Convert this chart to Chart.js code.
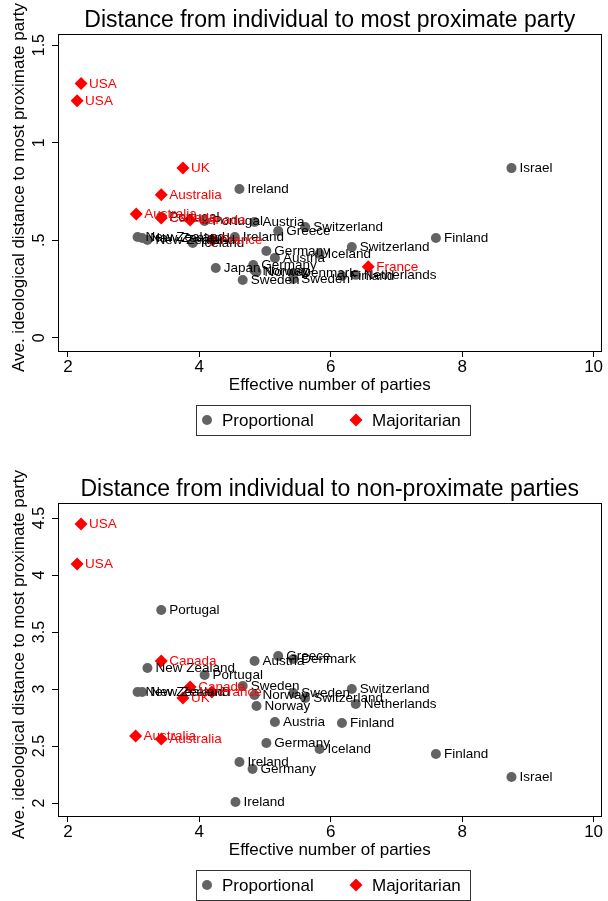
<!DOCTYPE html>
<html>
<head>
<meta charset="utf-8">
<script src="https://cdn.jsdelivr.net/npm/chart.js@4.4.0/dist/chart.umd.min.js"></script>
<style>
  html, body { margin: 0; padding: 0; background: #fff; }
  .panel { position: absolute; left: 0; width: 608px; }
  #wrap1 { top: 0; height: 468px; }
  #wrap2 { top: 468px; height: 433px; }
</style>
</head>
<body>
<div class="panel" id="wrap1"><canvas id="chart1"></canvas></div>
<div class="panel" id="wrap2"><canvas id="chart2"></canvas></div>
<script>
// ---- data: top panel (most proximate party) ----
const propNames1 = ["Israel", "Ireland", "Finland", "Switzerland", "Switzerland", "Greece", "Austria",
  "Portugal", "Portugal", "New Zealand", "New Zealand", "New Zealand", "Iceland", "Ireland",
  "Germany", "Iceland", "Austria", "Japan", "Germany", "Norway", "Norway", "Sweden", "Sweden",
  "Denmark", "Finland", "Netherlands"];
const propX1 = [8.75, 4.61, 7.60, 5.61, 6.32, 5.20, 4.84, 3.42, 4.08, 3.06, 3.13, 3.21, 3.90, 4.54,
  5.02, 5.83, 5.15, 4.25, 4.82, 4.84, 4.87, 4.66, 5.43, 5.43, 6.17, 6.38];
const propY1 = [0.870, 0.763, 0.512, 0.568, 0.466, 0.548, 0.594, 0.620, 0.599, 0.517, 0.512, 0.502,
  0.486, 0.517, 0.445, 0.430, 0.410, 0.358, 0.374, 0.345, 0.338, 0.297, 0.302, 0.333, 0.317, 0.323];
const majNames1 = ["USA", "USA", "UK", "Australia", "Australia", "Canada", "Canada", "France", "France"];
const majX1 = [2.20, 2.14, 3.75, 3.42, 3.04, 3.42, 3.86, 4.20, 6.57];
const majY1 = [1.303, 1.215, 0.870, 0.733, 0.635, 0.614, 0.604, 0.502, 0.364];

// ---- data: bottom panel (non-proximate parties) ----
const propNames2 = ["Portugal", "New Zealand", "Austria", "Greece", "Denmark", "Portugal", "Sweden",
  "Norway", "Sweden", "Switzerland", "Switzerland", "Netherlands", "Norway", "Austria", "Finland",
  "Germany", "Iceland", "Finland", "Israel", "Ireland", "Germany", "Ireland", "New Zealand", "New Zealand"];
const propX2 = [3.42, 3.21, 4.84, 5.20, 5.43, 4.08, 4.66, 4.84, 5.43, 5.61, 6.32, 6.38, 4.87, 5.15,
  6.17, 5.02, 5.83, 7.60, 8.75, 4.61, 4.81, 4.55, 3.06, 3.13];
const propY2 = [3.693, 3.184, 3.246, 3.289, 3.263, 3.123, 3.026, 2.947, 2.965, 2.921, 3.000, 2.868,
  2.851, 2.711, 2.702, 2.526, 2.474, 2.430, 2.228, 2.360, 2.298, 2.009, 2.974, 2.974];
const majNames2 = ["USA", "USA", "Canada", "Canada", "France", "UK", "Australia", "Australia"];
const majX2 = [2.20, 2.14, 3.42, 3.86, 4.19, 3.75, 3.03, 3.42];
const majY2 = [4.447, 4.096, 3.246, 3.018, 2.974, 2.921, 2.588, 2.561];

// ---- axes ----
const xTicks = [2, 4, 6, 8, 10];
const yTicks1 = [0, 0.5, 1, 1.5];
const yTickLabels1 = ["0", ".5", "1", "1.5"];
const yTicks2 = [2, 2.5, 3, 3.5, 4, 4.5];
const yTickLabels2 = ["2", "2.5", "3", "3.5", "4", "4.5"];
const yTitle = "Ave. ideological distance to most proximate party";

const FONT = "'Liberation Sans', Arial, Helvetica, sans-serif";
const GREY = "#636363";
const RED = "#ff0000";
Chart.defaults.font.family = FONT;
Chart.defaults.color = "#000";

function toPoints(xs, ys) {
  return xs.map((x, i) => ({ x: x, y: ys[i] }));
}

// frame, rotated y labels/title, point labels and boxed legend
const stataLook = {
  id: "stataLook",
  afterDatasetsDraw(chart) {
    const ctx = chart.ctx;
    const names = chart.options.plugins.stataLook.names;
    ctx.save();
    ctx.font = "13.5px " + FONT;
    ctx.textAlign = "left";
    ctx.textBaseline = "middle";
    chart.data.datasets.forEach((ds, i) => {
      ctx.fillStyle = i === 0 ? "#000" : RED;
      chart.getDatasetMeta(i).data.forEach((pt, j) => {
        ctx.fillText(names[i][j], pt.x + 8, pt.y + 0.5);
      });
    });
    ctx.restore();
  },
  afterDraw(chart) {
    const ctx = chart.ctx;
    const a = chart.chartArea;
    const opts = chart.options.plugins.stataLook;
    ctx.save();
    // plot region border
    ctx.strokeStyle = "#000";
    ctx.lineWidth = 1;
    ctx.strokeRect(Math.round(a.left) + 0.5, Math.round(a.top) + 0.5,
      Math.round(a.right - a.left) - 1, Math.round(a.bottom - a.top));

    // vertical y tick labels
    const ys = chart.scales.y;
    ctx.fillStyle = "#000";
    ctx.font = "16px " + FONT;
    ctx.textAlign = "center";
    ctx.textBaseline = "middle";
    ys.ticks.forEach((t, i) => {
      const py = ys.getPixelForTick(i);
      ctx.save();
      ctx.translate(40, py);
      ctx.rotate(-Math.PI / 2);
      ctx.fillText(opts.yLabels[i], 0, 0);
      ctx.restore();
    });

    // y axis title
    ctx.save();
    ctx.font = "17px " + FONT;
    ctx.translate(19, (a.top + a.bottom) / 2 - 5);
    ctx.rotate(-Math.PI / 2);
    ctx.fillText(yTitle, 0, 0);
    ctx.restore();

    // legend box
    const top = a.bottom + 54, h = 30;
    ctx.strokeStyle = "#333";
    ctx.strokeRect(196.5, top + 0.5, 274, h);
    const cy = top + h / 2;
    const ds = chart.data.datasets;
    ctx.font = "17px " + FONT;
    ctx.textAlign = "left";
    ctx.fillStyle = ds[0].backgroundColor;
    ctx.beginPath();
    ctx.arc(207, cy, 5, 0, Math.PI * 2);
    ctx.fill();
    ctx.fillStyle = "#000";
    ctx.fillText(ds[0].label, 222, cy + 1);
    ctx.fillStyle = ds[1].backgroundColor;
    ctx.beginPath();
    ctx.moveTo(356, cy - 6.5);
    ctx.lineTo(362.5, cy);
    ctx.lineTo(356, cy + 6.5);
    ctx.lineTo(349.5, cy);
    ctx.closePath();
    ctx.fill();
    ctx.fillStyle = "#000";
    ctx.fillText(ds[1].label, 372, cy + 1);
    ctx.restore();
  }
};

function makeChart(id, p) {
  const ctx = document.getElementById(id).getContext("2d");
  return new Chart(ctx, {
    type: "scatter",
    data: {
      datasets: [{
        label: "Proportional",
        data: toPoints(p.propX, p.propY),
        backgroundColor: GREY,
        borderWidth: 0,
        pointStyle: "circle",
        pointRadius: 5,
        order: 1
      }, {
        label: "Majoritarian",
        data: toPoints(p.majX, p.majY),
        backgroundColor: RED,
        borderWidth: 0,
        pointStyle: "rectRot",
        pointRadius: 6.5,
        order: 0
      }]
    },
    options: {
      responsive: true,
      maintainAspectRatio: false,
      animation: false,
      events: [],
      layout: { padding: { left: 0, right: 2, top: 0, bottom: 0 } },
      plugins: {
        legend: { display: false },
        tooltip: { enabled: false },
        title: {
          display: true,
          text: p.title,
          fullSize: false,
          color: "#000",
          font: { size: 23, weight: "normal", lineHeight: 1 },
          padding: { top: p.plotTop - 25, bottom: 2 }
        },
        stataLook: { names: [p.propNames, p.majNames], yLabels: p.yLabels }
      },
      scales: {
        x: {
          type: "linear",
          min: 1.849,
          max: 10.12,
          afterBuildTicks: s => { s.ticks = xTicks.map(v => ({ value: v })); },
          afterFit: s => { s.height = p.canvasH - p.plotBottom; },
          ticks: { font: { size: 17 }, padding: 0, color: "#000" },
          grid: { drawOnChartArea: false, drawTicks: true, tickLength: 6, color: "#000" },
          border: { display: false },
          title: {
            display: true,
            text: "Effective number of parties",
            font: { size: 17 },
            color: "#000",
            padding: { top: 0, bottom: p.canvasH - p.plotBottom - 34 - 10.2 }
          }
        },
        y: {
          type: "linear",
          min: p.yMin,
          max: p.yMax,
          afterBuildTicks: s => { s.ticks = p.yTicks.map(v => ({ value: v })); },
          afterFit: s => { s.width = 58; },
          ticks: { display: false },
          grid: { drawOnChartArea: false, drawTicks: true, tickLength: 6, color: "#000" },
          border: { display: false },
          title: { display: false }
        }
      }
    },
    plugins: [stataLook]
  });
}

makeChart("chart1", {
  title: "Distance from individual to most proximate party",
  propNames: propNames1, propX: propX1, propY: propY1,
  majNames: majNames1, majX: majX1, majY: majY1,
  yTicks: yTicks1, yLabels: yTickLabels1,
  yMin: -0.067, yMax: 1.557,
  canvasH: 468, plotTop: 34, plotBottom: 351
});

makeChart("chart2", {
  title: "Distance from individual to non-proximate parties",
  propNames: propNames2, propX: propX2, propY: propY2,
  majNames: majNames2, majX: majX2, majY: majY2,
  yTicks: yTicks2, yLabels: yTickLabels2,
  yMin: 1.886, yMax: 4.632,
  canvasH: 433, plotTop: 35, plotBottom: 348
});
</script>
</body>
</html>
